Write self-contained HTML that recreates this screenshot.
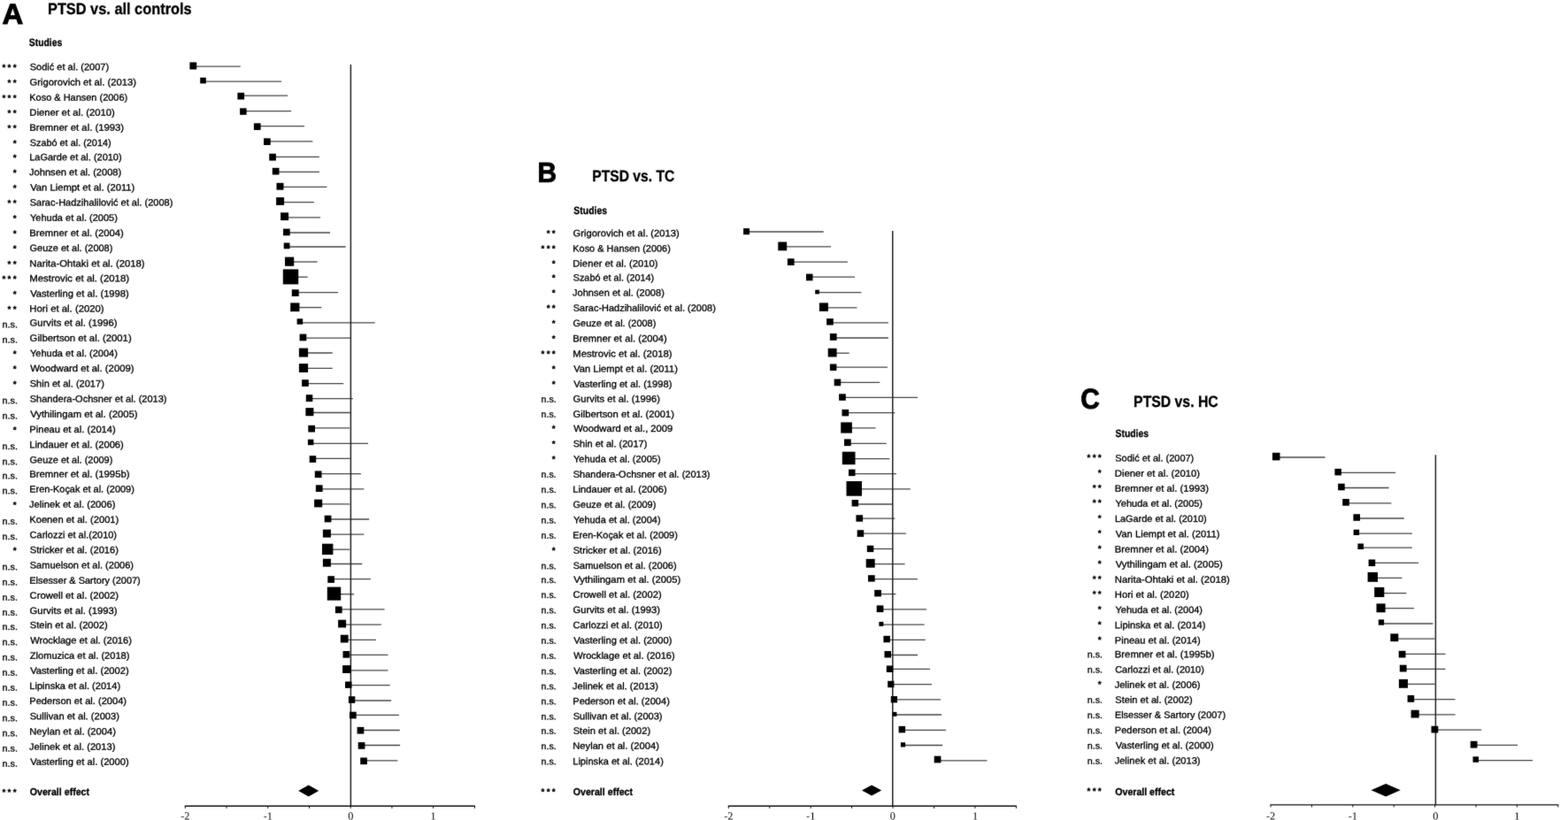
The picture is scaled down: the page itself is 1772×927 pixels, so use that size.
<!DOCTYPE html>
<html lang="en">
<head>
<meta charset="utf-8">
<title>Forest plots: PTSD vs. controls</title>
<style>
html,body{margin:0;padding:0;background:#fff;}
body{width:1772px;height:927px;overflow:hidden;position:relative;}
svg{position:absolute;left:0;top:0;display:block;}
svg text{font-family:'Liberation Sans', sans-serif;fill:#000;stroke:#000;stroke-width:0.30px;stroke-linejoin:round;}
svg text.ax{font-family:'Liberation Serif', serif;stroke:none;}
</style>
</head>
<body>
<svg width="1772" height="927" viewBox="0 0 1772 927" shape-rendering="geometricPrecision" text-rendering="geometricPrecision">
<defs><filter id="soft" x="0" y="0" width="100%" height="100%" color-interpolation-filters="sRGB"><feConvolveMatrix order="3" kernelMatrix="0.01 0.06 0.01 0.06 0.72 0.06 0.01 0.06 0.01" edgeMode="duplicate" preserveAlpha="false"/></filter></defs>
<g filter="url(#soft)">
<rect x="0" y="0" width="1772" height="927" fill="#fff"/>
<g id="panel-a">
<text transform="translate(2.59 27.00) skewY(0.03)" font-size="32.60" textLength="23.79" lengthAdjust="spacingAndGlyphs" font-weight="700" style="stroke-width:0.90px">A</text>
<text transform="translate(53.97 15.50) skewY(0.03)" font-size="18.00" textLength="162.67" lengthAdjust="spacingAndGlyphs" font-weight="700">PTSD vs. all controls</text>
<text transform="translate(32.84 51.50) skewY(0.03)" font-size="12.00" textLength="37.38" lengthAdjust="spacingAndGlyphs" font-weight="700">Studies</text>
<text transform="translate(33.72 898.75) skewY(0.03)" font-size="11.50" textLength="67.36" lengthAdjust="spacingAndGlyphs" font-weight="700">Overall effect</text>
<text transform="translate(33.71 79.25) skewY(0.03)" font-size="10.70" textLength="89.42" lengthAdjust="spacingAndGlyphs">Sodić et al. (2007)</text>
<text transform="translate(2.49 79.50) skewY(0.03)" x="0.00 6.10 12.20" font-size="9.90" font-weight="700">***</text>
<text transform="translate(33.59 96.50) skewY(0.03)" font-size="10.70" textLength="120.46" lengthAdjust="spacingAndGlyphs">Grigorovich et al. (2013)</text>
<text transform="translate(8.59 96.75) skewY(0.03)" x="0.00 6.10" font-size="9.90" font-weight="700">**</text>
<text transform="translate(33.27 113.75) skewY(0.03)" font-size="10.70" textLength="110.96" lengthAdjust="spacingAndGlyphs">Koso &amp; Hansen (2006)</text>
<text transform="translate(2.49 114.00) skewY(0.03)" x="0.00 6.10 12.20" font-size="9.90" font-weight="700">***</text>
<text transform="translate(33.25 130.75) skewY(0.03)" font-size="10.70" textLength="96.60" lengthAdjust="spacingAndGlyphs">Diener et al. (2010)</text>
<text transform="translate(8.59 131.00) skewY(0.03)" x="0.00 6.10" font-size="9.90" font-weight="700">**</text>
<text transform="translate(33.24 147.75) skewY(0.03)" font-size="10.70" textLength="106.90" lengthAdjust="spacingAndGlyphs">Bremner et al. (1993)</text>
<text transform="translate(8.59 148.00) skewY(0.03)" x="0.00 6.10" font-size="9.90" font-weight="700">**</text>
<text transform="translate(33.71 165.00) skewY(0.03)" font-size="10.70" textLength="91.91" lengthAdjust="spacingAndGlyphs">Szabó et al. (2014)</text>
<text transform="translate(14.69 165.25) skewY(0.03)" x="0.00" font-size="9.90" font-weight="700">*</text>
<text transform="translate(33.27 181.25) skewY(0.03)" font-size="10.70" textLength="104.36" lengthAdjust="spacingAndGlyphs">LaGarde et al. (2010)</text>
<text transform="translate(14.69 181.50) skewY(0.03)" x="0.00" font-size="9.90" font-weight="700">*</text>
<text transform="translate(33.04 198.25) skewY(0.03)" font-size="10.70" textLength="104.20" lengthAdjust="spacingAndGlyphs">Johnsen et al. (2008)</text>
<text transform="translate(14.69 198.50) skewY(0.03)" x="0.00" font-size="9.90" font-weight="700">*</text>
<text transform="translate(34.15 215.50) skewY(0.03)" font-size="10.70" textLength="118.20" lengthAdjust="spacingAndGlyphs">Van Liempt et al. (2011)</text>
<text transform="translate(14.69 215.75) skewY(0.03)" x="0.00" font-size="9.90" font-weight="700">*</text>
<text transform="translate(33.71 232.50) skewY(0.03)" font-size="10.70" textLength="161.62" lengthAdjust="spacingAndGlyphs">Sarac-Hadzihalilović et al. (2008)</text>
<text transform="translate(8.59 232.75) skewY(0.03)" x="0.00 6.10" font-size="9.90" font-weight="700">**</text>
<text transform="translate(33.93 249.75) skewY(0.03)" font-size="10.70" textLength="99.01" lengthAdjust="spacingAndGlyphs">Yehuda et al. (2005)</text>
<text transform="translate(14.69 250.00) skewY(0.03)" x="0.00" font-size="9.90" font-weight="700">*</text>
<text transform="translate(33.25 267.00) skewY(0.03)" font-size="10.70" textLength="106.60" lengthAdjust="spacingAndGlyphs">Bremner et al. (2004)</text>
<text transform="translate(14.69 267.25) skewY(0.03)" x="0.00" font-size="9.90" font-weight="700">*</text>
<text transform="translate(33.60 284.00) skewY(0.03)" font-size="10.70" textLength="93.73" lengthAdjust="spacingAndGlyphs">Geuze et al. (2008)</text>
<text transform="translate(14.69 284.25) skewY(0.03)" x="0.00" font-size="9.90" font-weight="700">*</text>
<text transform="translate(33.24 301.50) skewY(0.03)" font-size="10.70" textLength="130.41" lengthAdjust="spacingAndGlyphs">Narita-Ohtaki et al. (2018)</text>
<text transform="translate(8.59 301.75) skewY(0.03)" x="0.00 6.10" font-size="9.90" font-weight="700">**</text>
<text transform="translate(33.24 318.25) skewY(0.03)" font-size="10.70" textLength="112.82" lengthAdjust="spacingAndGlyphs">Mestrovic et al. (2018)</text>
<text transform="translate(2.49 318.50) skewY(0.03)" x="0.00 6.10 12.20" font-size="9.90" font-weight="700">***</text>
<text transform="translate(34.15 335.50) skewY(0.03)" font-size="10.70" textLength="111.59" lengthAdjust="spacingAndGlyphs">Vasterling et al. (1998)</text>
<text transform="translate(14.69 335.75) skewY(0.03)" x="0.00" font-size="9.90" font-weight="700">*</text>
<text transform="translate(33.24 352.50) skewY(0.03)" font-size="10.70" textLength="84.41" lengthAdjust="spacingAndGlyphs">Hori et al. (2020)</text>
<text transform="translate(8.59 352.75) skewY(0.03)" x="0.00 6.10" font-size="9.90" font-weight="700">**</text>
<text transform="translate(33.59 368.50) skewY(0.03)" font-size="10.70" textLength="98.96" lengthAdjust="spacingAndGlyphs">Gurvits et al. (1996)</text>
<text transform="translate(2.50 370.25) skewY(0.03)" font-size="10.30" textLength="17.40" lengthAdjust="spacingAndGlyphs">n.s.</text>
<text transform="translate(33.58 385.75) skewY(0.03)" font-size="10.70" textLength="115.07" lengthAdjust="spacingAndGlyphs">Gilbertson et al. (2001)</text>
<text transform="translate(2.50 387.50) skewY(0.03)" font-size="10.30" textLength="17.40" lengthAdjust="spacingAndGlyphs">n.s.</text>
<text transform="translate(33.93 403.00) skewY(0.03)" font-size="10.70" textLength="99.01" lengthAdjust="spacingAndGlyphs">Yehuda et al. (2004)</text>
<text transform="translate(14.69 403.25) skewY(0.03)" x="0.00" font-size="9.90" font-weight="700">*</text>
<text transform="translate(34.15 420.00) skewY(0.03)" font-size="10.70" textLength="117.40" lengthAdjust="spacingAndGlyphs">Woodward et al. (2009)</text>
<text transform="translate(14.69 420.25) skewY(0.03)" x="0.00" font-size="9.90" font-weight="700">*</text>
<text transform="translate(33.71 437.25) skewY(0.03)" font-size="10.70" textLength="84.13" lengthAdjust="spacingAndGlyphs">Shin et al. (2017)</text>
<text transform="translate(14.69 437.50) skewY(0.03)" x="0.00" font-size="9.90" font-weight="700">*</text>
<text transform="translate(33.71 454.50) skewY(0.03)" font-size="10.70" textLength="154.82" lengthAdjust="spacingAndGlyphs">Shandera-Ochsner et al. (2013)</text>
<text transform="translate(2.50 456.25) skewY(0.03)" font-size="10.30" textLength="17.40" lengthAdjust="spacingAndGlyphs">n.s.</text>
<text transform="translate(34.15 471.75) skewY(0.03)" font-size="10.70" textLength="121.40" lengthAdjust="spacingAndGlyphs">Vythilingam et al. (2005)</text>
<text transform="translate(2.50 473.50) skewY(0.03)" font-size="10.30" textLength="17.40" lengthAdjust="spacingAndGlyphs">n.s.</text>
<text transform="translate(33.26 489.00) skewY(0.03)" font-size="10.70" textLength="97.49" lengthAdjust="spacingAndGlyphs">Pineau et al. (2014)</text>
<text transform="translate(14.69 489.25) skewY(0.03)" x="0.00" font-size="9.90" font-weight="700">*</text>
<text transform="translate(33.25 506.25) skewY(0.03)" font-size="10.70" textLength="106.59" lengthAdjust="spacingAndGlyphs">Lindauer et al. (2006)</text>
<text transform="translate(2.50 508.00) skewY(0.03)" font-size="10.30" textLength="17.40" lengthAdjust="spacingAndGlyphs">n.s.</text>
<text transform="translate(33.60 523.50) skewY(0.03)" font-size="10.70" textLength="93.73" lengthAdjust="spacingAndGlyphs">Geuze et al. (2009)</text>
<text transform="translate(2.50 525.25) skewY(0.03)" font-size="10.30" textLength="17.40" lengthAdjust="spacingAndGlyphs">n.s.</text>
<text transform="translate(33.24 539.50) skewY(0.03)" font-size="10.70" textLength="113.31" lengthAdjust="spacingAndGlyphs">Bremner et al. (1995b)</text>
<text transform="translate(2.50 541.25) skewY(0.03)" font-size="10.30" textLength="17.40" lengthAdjust="spacingAndGlyphs">n.s.</text>
<text transform="translate(33.27 556.50) skewY(0.03)" font-size="10.70" textLength="118.55" lengthAdjust="spacingAndGlyphs">Eren-Koçak et al. (2009)</text>
<text transform="translate(2.50 558.25) skewY(0.03)" font-size="10.30" textLength="17.40" lengthAdjust="spacingAndGlyphs">n.s.</text>
<text transform="translate(33.04 573.75) skewY(0.03)" font-size="10.70" textLength="97.40" lengthAdjust="spacingAndGlyphs">Jelinek et al. (2006)</text>
<text transform="translate(14.69 574.00) skewY(0.03)" x="0.00" font-size="9.90" font-weight="700">*</text>
<text transform="translate(33.26 591.00) skewY(0.03)" font-size="10.70" textLength="100.98" lengthAdjust="spacingAndGlyphs">Koenen et al. (2001)</text>
<text transform="translate(2.50 592.75) skewY(0.03)" font-size="10.30" textLength="17.40" lengthAdjust="spacingAndGlyphs">n.s.</text>
<text transform="translate(33.60 608.25) skewY(0.03)" font-size="10.70" textLength="98.43" lengthAdjust="spacingAndGlyphs">Carlozzi et al.(2010)</text>
<text transform="translate(2.50 610.00) skewY(0.03)" font-size="10.30" textLength="17.40" lengthAdjust="spacingAndGlyphs">n.s.</text>
<text transform="translate(33.70 625.25) skewY(0.03)" font-size="10.70" textLength="100.24" lengthAdjust="spacingAndGlyphs">Stricker et al. (2016)</text>
<text transform="translate(14.69 625.50) skewY(0.03)" x="0.00" font-size="9.90" font-weight="700">*</text>
<text transform="translate(33.71 642.50) skewY(0.03)" font-size="10.70" textLength="117.33" lengthAdjust="spacingAndGlyphs">Samuelson et al. (2006)</text>
<text transform="translate(2.50 644.25) skewY(0.03)" font-size="10.30" textLength="17.40" lengthAdjust="spacingAndGlyphs">n.s.</text>
<text transform="translate(33.27 659.75) skewY(0.03)" font-size="10.70" textLength="125.46" lengthAdjust="spacingAndGlyphs">Elsesser &amp; Sartory (2007)</text>
<text transform="translate(2.50 661.50) skewY(0.03)" font-size="10.30" textLength="17.40" lengthAdjust="spacingAndGlyphs">n.s.</text>
<text transform="translate(33.59 676.75) skewY(0.03)" font-size="10.70" textLength="100.36" lengthAdjust="spacingAndGlyphs">Crowell et al. (2002)</text>
<text transform="translate(2.50 678.75) skewY(0.03)" font-size="10.30" textLength="17.40" lengthAdjust="spacingAndGlyphs">n.s.</text>
<text transform="translate(33.59 694.00) skewY(0.03)" font-size="10.70" textLength="98.96" lengthAdjust="spacingAndGlyphs">Gurvits et al. (1993)</text>
<text transform="translate(2.50 695.75) skewY(0.03)" font-size="10.30" textLength="17.40" lengthAdjust="spacingAndGlyphs">n.s.</text>
<text transform="translate(33.70 710.25) skewY(0.03)" font-size="10.70" textLength="87.94" lengthAdjust="spacingAndGlyphs">Stein et al. (2002)</text>
<text transform="translate(2.50 712.00) skewY(0.03)" font-size="10.30" textLength="17.40" lengthAdjust="spacingAndGlyphs">n.s.</text>
<text transform="translate(34.15 727.50) skewY(0.03)" font-size="10.70" textLength="114.79" lengthAdjust="spacingAndGlyphs">Wrocklage et al. (2016)</text>
<text transform="translate(2.50 729.25) skewY(0.03)" font-size="10.30" textLength="17.40" lengthAdjust="spacingAndGlyphs">n.s.</text>
<text transform="translate(33.82 744.75) skewY(0.03)" font-size="10.70" textLength="112.62" lengthAdjust="spacingAndGlyphs">Zlomuzica et al. (2018)</text>
<text transform="translate(2.50 746.50) skewY(0.03)" font-size="10.30" textLength="17.40" lengthAdjust="spacingAndGlyphs">n.s.</text>
<text transform="translate(34.15 761.75) skewY(0.03)" font-size="10.70" textLength="111.59" lengthAdjust="spacingAndGlyphs">Vasterling et al. (2002)</text>
<text transform="translate(2.50 763.75) skewY(0.03)" font-size="10.30" textLength="17.40" lengthAdjust="spacingAndGlyphs">n.s.</text>
<text transform="translate(33.26 779.00) skewY(0.03)" font-size="10.70" textLength="102.87" lengthAdjust="spacingAndGlyphs">Lipinska et al. (2014)</text>
<text transform="translate(2.50 780.75) skewY(0.03)" font-size="10.30" textLength="17.40" lengthAdjust="spacingAndGlyphs">n.s.</text>
<text transform="translate(33.26 796.00) skewY(0.03)" font-size="10.70" textLength="109.78" lengthAdjust="spacingAndGlyphs">Pederson et al. (2004)</text>
<text transform="translate(2.50 797.75) skewY(0.03)" font-size="10.30" textLength="17.40" lengthAdjust="spacingAndGlyphs">n.s.</text>
<text transform="translate(33.71 813.25) skewY(0.03)" font-size="10.70" textLength="101.13" lengthAdjust="spacingAndGlyphs">Sullivan et al. (2003)</text>
<text transform="translate(2.50 815.25) skewY(0.03)" font-size="10.30" textLength="17.40" lengthAdjust="spacingAndGlyphs">n.s.</text>
<text transform="translate(33.25 830.50) skewY(0.03)" font-size="10.70" textLength="97.79" lengthAdjust="spacingAndGlyphs">Neylan et al. (2004)</text>
<text transform="translate(2.50 832.25) skewY(0.03)" font-size="10.30" textLength="17.40" lengthAdjust="spacingAndGlyphs">n.s.</text>
<text transform="translate(33.04 847.75) skewY(0.03)" font-size="10.70" textLength="97.40" lengthAdjust="spacingAndGlyphs">Jelinek et al. (2013)</text>
<text transform="translate(2.50 849.50) skewY(0.03)" font-size="10.30" textLength="17.40" lengthAdjust="spacingAndGlyphs">n.s.</text>
<text transform="translate(34.15 864.75) skewY(0.03)" font-size="10.70" textLength="111.59" lengthAdjust="spacingAndGlyphs">Vasterling et al. (2000)</text>
<text transform="translate(2.50 866.75) skewY(0.03)" font-size="10.30" textLength="17.40" lengthAdjust="spacingAndGlyphs">n.s.</text>
<text transform="translate(2.49 898.75) skewY(0.03)" x="0.00 6.10 12.20" font-size="9.90" font-weight="700">***</text>
<line x1="218.3" y1="75.20" x2="271.7" y2="75.20" stroke="#484848" stroke-width="1.30"/>
<line x1="229.5" y1="92.20" x2="318.0" y2="92.20" stroke="#484848" stroke-width="1.30"/>
<line x1="272.2" y1="108.20" x2="325.2" y2="108.20" stroke="#484848" stroke-width="1.30"/>
<line x1="274.9" y1="125.70" x2="329.1" y2="125.70" stroke="#484848" stroke-width="1.30"/>
<line x1="290.8" y1="142.60" x2="344.0" y2="142.60" stroke="#484848" stroke-width="1.30"/>
<line x1="301.9" y1="159.90" x2="353.3" y2="159.90" stroke="#484848" stroke-width="1.30"/>
<line x1="308.0" y1="177.30" x2="360.8" y2="177.30" stroke="#484848" stroke-width="1.30"/>
<line x1="311.6" y1="194.30" x2="361.0" y2="194.30" stroke="#484848" stroke-width="1.30"/>
<line x1="316.5" y1="211.30" x2="369.4" y2="211.30" stroke="#484848" stroke-width="1.30"/>
<line x1="316.6" y1="228.70" x2="354.9" y2="228.70" stroke="#484848" stroke-width="1.30"/>
<line x1="321.6" y1="245.90" x2="362.1" y2="245.90" stroke="#484848" stroke-width="1.30"/>
<line x1="323.9" y1="263.00" x2="373.0" y2="263.00" stroke="#484848" stroke-width="1.30"/>
<line x1="324.1" y1="279.00" x2="390.7" y2="279.00" stroke="#484848" stroke-width="1.30"/>
<line x1="327.1" y1="296.00" x2="358.7" y2="296.00" stroke="#484848" stroke-width="1.30"/>
<line x1="328.5" y1="313.20" x2="347.6" y2="313.20" stroke="#484848" stroke-width="1.30"/>
<line x1="333.8" y1="330.60" x2="382.1" y2="330.60" stroke="#484848" stroke-width="1.30"/>
<line x1="333.3" y1="347.60" x2="363.5" y2="347.60" stroke="#484848" stroke-width="1.30"/>
<line x1="338.9" y1="364.80" x2="423.7" y2="364.80" stroke="#484848" stroke-width="1.30"/>
<line x1="342.5" y1="382.10" x2="397.0" y2="382.10" stroke="#484848" stroke-width="1.30"/>
<line x1="343.0" y1="399.00" x2="375.7" y2="399.00" stroke="#484848" stroke-width="1.30"/>
<line x1="343.0" y1="416.30" x2="375.7" y2="416.30" stroke="#484848" stroke-width="1.30"/>
<line x1="345.0" y1="433.70" x2="388.2" y2="433.70" stroke="#484848" stroke-width="1.30"/>
<line x1="349.6" y1="450.70" x2="398.8" y2="450.70" stroke="#484848" stroke-width="1.30"/>
<line x1="349.9" y1="466.50" x2="397.0" y2="466.50" stroke="#484848" stroke-width="1.30"/>
<line x1="352.1" y1="483.90" x2="395.2" y2="483.90" stroke="#484848" stroke-width="1.30"/>
<line x1="351.1" y1="501.40" x2="416.0" y2="501.40" stroke="#484848" stroke-width="1.30"/>
<line x1="353.4" y1="518.40" x2="395.7" y2="518.40" stroke="#484848" stroke-width="1.30"/>
<line x1="359.6" y1="535.60" x2="407.9" y2="535.60" stroke="#484848" stroke-width="1.30"/>
<line x1="360.8" y1="552.80" x2="411.3" y2="552.80" stroke="#484848" stroke-width="1.30"/>
<line x1="359.6" y1="569.80" x2="395.2" y2="569.80" stroke="#484848" stroke-width="1.30"/>
<line x1="370.5" y1="587.00" x2="417.2" y2="587.00" stroke="#484848" stroke-width="1.30"/>
<line x1="369.4" y1="604.20" x2="411.3" y2="604.20" stroke="#484848" stroke-width="1.30"/>
<line x1="370.2" y1="621.20" x2="395.2" y2="621.20" stroke="#484848" stroke-width="1.30"/>
<line x1="369.4" y1="637.50" x2="409.3" y2="637.50" stroke="#484848" stroke-width="1.30"/>
<line x1="374.1" y1="654.60" x2="418.8" y2="654.60" stroke="#484848" stroke-width="1.30"/>
<line x1="377.5" y1="671.70" x2="400.2" y2="671.70" stroke="#484848" stroke-width="1.30"/>
<line x1="382.8" y1="688.90" x2="434.6" y2="688.90" stroke="#484848" stroke-width="1.30"/>
<line x1="386.6" y1="706.10" x2="430.8" y2="706.10" stroke="#484848" stroke-width="1.30"/>
<line x1="389.2" y1="723.30" x2="424.9" y2="723.30" stroke="#484848" stroke-width="1.30"/>
<line x1="391.4" y1="740.30" x2="438.5" y2="740.30" stroke="#484848" stroke-width="1.30"/>
<line x1="391.9" y1="757.80" x2="438.5" y2="757.80" stroke="#484848" stroke-width="1.30"/>
<line x1="393.8" y1="774.70" x2="440.7" y2="774.70" stroke="#484848" stroke-width="1.30"/>
<line x1="397.6" y1="792.00" x2="442.1" y2="792.00" stroke="#484848" stroke-width="1.30"/>
<line x1="398.9" y1="808.30" x2="450.9" y2="808.30" stroke="#484848" stroke-width="1.30"/>
<line x1="407.5" y1="825.50" x2="451.8" y2="825.50" stroke="#484848" stroke-width="1.30"/>
<line x1="408.5" y1="842.50" x2="452.1" y2="842.50" stroke="#484848" stroke-width="1.30"/>
<line x1="411.0" y1="859.90" x2="449.3" y2="859.90" stroke="#484848" stroke-width="1.30"/>
<line x1="396.40" y1="73.1" x2="396.40" y2="911.3" stroke="#222" stroke-width="1.50"/>
<rect x="214.4" y="70.4" width="7.8" height="8.1" fill="#000"/>
<rect x="226.2" y="87.7" width="6.6" height="6.7" fill="#000"/>
<rect x="268.4" y="104.8" width="7.7" height="7.7" fill="#000"/>
<rect x="271.1" y="122.3" width="7.5" height="7.5" fill="#000"/>
<rect x="286.9" y="139.3" width="7.7" height="7.7" fill="#000"/>
<rect x="298.0" y="156.3" width="7.7" height="7.7" fill="#000"/>
<rect x="304.2" y="173.7" width="7.7" height="7.9" fill="#000"/>
<rect x="307.8" y="189.8" width="7.7" height="7.7" fill="#000"/>
<rect x="312.5" y="206.8" width="8.0" height="7.9" fill="#000"/>
<rect x="312.1" y="223.1" width="9.0" height="8.8" fill="#000"/>
<rect x="317.1" y="240.3" width="9.0" height="8.8" fill="#000"/>
<rect x="320.0" y="258.6" width="7.7" height="7.7" fill="#000"/>
<rect x="320.7" y="274.5" width="6.8" height="6.8" fill="#000"/>
<rect x="322.0" y="290.6" width="10.2" height="10.2" fill="#000"/>
<rect x="319.8" y="304.4" width="17.4" height="17.0" fill="#000"/>
<rect x="329.8" y="327.3" width="7.9" height="7.7" fill="#000"/>
<rect x="328.2" y="342.4" width="10.2" height="9.8" fill="#000"/>
<rect x="335.6" y="360.3" width="6.6" height="6.4" fill="#000"/>
<rect x="338.6" y="377.6" width="7.7" height="7.7" fill="#000"/>
<rect x="337.9" y="393.6" width="10.2" height="10.0" fill="#000"/>
<rect x="337.9" y="411.1" width="10.2" height="9.9" fill="#000"/>
<rect x="341.1" y="429.2" width="7.7" height="7.7" fill="#000"/>
<rect x="345.8" y="446.2" width="7.5" height="7.9" fill="#000"/>
<rect x="345.4" y="461.1" width="9.0" height="9.1" fill="#000"/>
<rect x="348.3" y="480.8" width="7.7" height="7.7" fill="#000"/>
<rect x="347.9" y="496.7" width="6.5" height="6.5" fill="#000"/>
<rect x="349.7" y="515.2" width="7.5" height="7.7" fill="#000"/>
<rect x="355.8" y="532.4" width="7.7" height="7.7" fill="#000"/>
<rect x="356.9" y="548.3" width="7.7" height="7.7" fill="#000"/>
<rect x="355.1" y="564.6" width="9.1" height="8.8" fill="#000"/>
<rect x="366.7" y="582.7" width="7.7" height="7.7" fill="#000"/>
<rect x="364.9" y="598.6" width="9.0" height="9.0" fill="#000"/>
<rect x="364.0" y="614.7" width="12.4" height="12.4" fill="#000"/>
<rect x="364.9" y="631.7" width="9.0" height="9.0" fill="#000"/>
<rect x="370.3" y="651.2" width="7.7" height="7.7" fill="#000"/>
<rect x="369.8" y="663.6" width="15.4" height="15.1" fill="#000"/>
<rect x="378.9" y="685.5" width="7.7" height="7.7" fill="#000"/>
<rect x="382.1" y="700.7" width="9.0" height="8.8" fill="#000"/>
<rect x="384.8" y="717.7" width="8.8" height="8.8" fill="#000"/>
<rect x="387.5" y="736.0" width="7.7" height="7.7" fill="#000"/>
<rect x="387.1" y="752.1" width="9.5" height="8.9" fill="#000"/>
<rect x="390.0" y="770.5" width="7.5" height="7.4" fill="#000"/>
<rect x="393.9" y="787.2" width="7.4" height="7.7" fill="#000"/>
<rect x="395.0" y="804.7" width="7.7" height="7.7" fill="#000"/>
<rect x="403.6" y="821.9" width="7.7" height="7.7" fill="#000"/>
<rect x="404.7" y="839.1" width="7.7" height="7.7" fill="#000"/>
<rect x="407.2" y="856.5" width="7.7" height="7.7" fill="#000"/>
<polygon points="337.2,894.0 348.7,887.5 360.2,894.0 348.7,900.5" fill="#000"/>
<line x1="208.8" y1="911.30" x2="536.9" y2="911.30" stroke="#111" stroke-width="1.40"/>
<line x1="209.30" y1="911.30" x2="209.30" y2="913.90" stroke="#111" stroke-width="1.00"/>
<line x1="256.03" y1="911.30" x2="256.03" y2="913.90" stroke="#111" stroke-width="1.00"/>
<line x1="302.76" y1="911.30" x2="302.76" y2="913.90" stroke="#111" stroke-width="1.00"/>
<line x1="349.49" y1="911.30" x2="349.49" y2="913.90" stroke="#111" stroke-width="1.00"/>
<line x1="396.21" y1="911.30" x2="396.21" y2="913.90" stroke="#111" stroke-width="1.00"/>
<line x1="442.94" y1="911.30" x2="442.94" y2="913.90" stroke="#111" stroke-width="1.00"/>
<line x1="489.67" y1="911.30" x2="489.67" y2="913.90" stroke="#111" stroke-width="1.00"/>
<line x1="536.40" y1="911.30" x2="536.40" y2="913.90" stroke="#111" stroke-width="1.00"/>
<text transform="translate(209.30 926.50) skewY(0.03)" font-size="12.30" class="ax" text-anchor="middle">-2</text>
<text transform="translate(302.76 926.50) skewY(0.03)" font-size="12.30" class="ax" text-anchor="middle">-1</text>
<text transform="translate(396.40 926.50) skewY(0.03)" font-size="12.30" class="ax" text-anchor="middle">0</text>
<text transform="translate(489.67 926.50) skewY(0.03)" font-size="12.30" class="ax" text-anchor="middle">1</text>
</g>
<g id="panel-b">
<text transform="translate(607.46 205.75) skewY(0.03)" font-size="31.80" textLength="21.55" lengthAdjust="spacingAndGlyphs" font-weight="700" style="stroke-width:0.90px">B</text>
<text transform="translate(669.31 205.00) skewY(0.03)" font-size="18.00" textLength="92.99" lengthAdjust="spacingAndGlyphs" font-weight="700">PTSD vs. TC</text>
<text transform="translate(648.34 242.00) skewY(0.03)" font-size="12.00" textLength="37.69" lengthAdjust="spacingAndGlyphs" font-weight="700">Studies</text>
<text transform="translate(647.72 898.75) skewY(0.03)" font-size="11.50" textLength="67.36" lengthAdjust="spacingAndGlyphs" font-weight="700">Overall effect</text>
<text transform="translate(647.59 267.25) skewY(0.03)" font-size="10.70" textLength="120.15" lengthAdjust="spacingAndGlyphs">Grigorovich et al. (2013)</text>
<text transform="translate(617.69 267.00) skewY(0.03)" x="0.00 6.10" font-size="9.90" font-weight="700">**</text>
<text transform="translate(647.28 284.50) skewY(0.03)" font-size="10.70" textLength="110.55" lengthAdjust="spacingAndGlyphs">Koso &amp; Hansen (2006)</text>
<text transform="translate(611.59 284.25) skewY(0.03)" x="0.00 6.10 12.20" font-size="9.90" font-weight="700">***</text>
<text transform="translate(647.25 301.50) skewY(0.03)" font-size="10.70" textLength="96.30" lengthAdjust="spacingAndGlyphs">Diener et al. (2010)</text>
<text transform="translate(623.79 301.25) skewY(0.03)" x="0.00" font-size="9.90" font-weight="700">*</text>
<text transform="translate(647.72 317.50) skewY(0.03)" font-size="10.70" textLength="91.51" lengthAdjust="spacingAndGlyphs">Szabó et al. (2014)</text>
<text transform="translate(623.79 317.25) skewY(0.03)" x="0.00" font-size="9.90" font-weight="700">*</text>
<text transform="translate(647.04 334.50) skewY(0.03)" font-size="10.70" textLength="103.80" lengthAdjust="spacingAndGlyphs">Johnsen et al. (2008)</text>
<text transform="translate(623.79 334.25) skewY(0.03)" x="0.00" font-size="9.90" font-weight="700">*</text>
<text transform="translate(647.71 351.75) skewY(0.03)" font-size="10.70" textLength="161.12" lengthAdjust="spacingAndGlyphs">Sarac-Hadzihalilović et al. (2008)</text>
<text transform="translate(617.69 351.50) skewY(0.03)" x="0.00 6.10" font-size="9.90" font-weight="700">**</text>
<text transform="translate(647.60 369.00) skewY(0.03)" font-size="10.70" textLength="93.73" lengthAdjust="spacingAndGlyphs">Geuze et al. (2008)</text>
<text transform="translate(623.79 368.75) skewY(0.03)" x="0.00" font-size="9.90" font-weight="700">*</text>
<text transform="translate(647.25 386.25) skewY(0.03)" font-size="10.70" textLength="106.50" lengthAdjust="spacingAndGlyphs">Bremner et al. (2004)</text>
<text transform="translate(623.79 386.00) skewY(0.03)" x="0.00" font-size="9.90" font-weight="700">*</text>
<text transform="translate(647.24 403.50) skewY(0.03)" font-size="10.70" textLength="112.41" lengthAdjust="spacingAndGlyphs">Mestrovic et al. (2018)</text>
<text transform="translate(611.59 403.25) skewY(0.03)" x="0.00 6.10 12.20" font-size="9.90" font-weight="700">***</text>
<text transform="translate(648.15 420.50) skewY(0.03)" font-size="10.70" textLength="117.79" lengthAdjust="spacingAndGlyphs">Van Liempt et al. (2011)</text>
<text transform="translate(623.79 420.25) skewY(0.03)" x="0.00" font-size="9.90" font-weight="700">*</text>
<text transform="translate(648.15 437.75) skewY(0.03)" font-size="10.70" textLength="111.19" lengthAdjust="spacingAndGlyphs">Vasterling et al. (1998)</text>
<text transform="translate(623.79 437.50) skewY(0.03)" x="0.00" font-size="9.90" font-weight="700">*</text>
<text transform="translate(647.59 454.50) skewY(0.03)" font-size="10.70" textLength="98.45" lengthAdjust="spacingAndGlyphs">Gurvits et al. (1996)</text>
<text transform="translate(611.61 454.75) skewY(0.03)" font-size="10.30" textLength="17.07" lengthAdjust="spacingAndGlyphs">n.s.</text>
<text transform="translate(647.59 471.75) skewY(0.03)" font-size="10.70" textLength="114.46" lengthAdjust="spacingAndGlyphs">Gilbertson et al. (2001)</text>
<text transform="translate(611.61 471.75) skewY(0.03)" font-size="10.30" textLength="17.07" lengthAdjust="spacingAndGlyphs">n.s.</text>
<text transform="translate(648.15 488.00) skewY(0.03)" font-size="10.70" textLength="112.22" lengthAdjust="spacingAndGlyphs">Woodward et al., 2009</text>
<text transform="translate(623.79 487.75) skewY(0.03)" x="0.00" font-size="9.90" font-weight="700">*</text>
<text transform="translate(647.71 505.25) skewY(0.03)" font-size="10.70" textLength="83.62" lengthAdjust="spacingAndGlyphs">Shin et al. (2017)</text>
<text transform="translate(623.79 505.00) skewY(0.03)" x="0.00" font-size="9.90" font-weight="700">*</text>
<text transform="translate(647.93 522.50) skewY(0.03)" font-size="10.70" textLength="98.70" lengthAdjust="spacingAndGlyphs">Yehuda et al. (2005)</text>
<text transform="translate(623.79 522.25) skewY(0.03)" x="0.00" font-size="9.90" font-weight="700">*</text>
<text transform="translate(647.71 539.75) skewY(0.03)" font-size="10.70" textLength="154.82" lengthAdjust="spacingAndGlyphs">Shandera-Ochsner et al. (2013)</text>
<text transform="translate(611.61 539.75) skewY(0.03)" font-size="10.30" textLength="17.07" lengthAdjust="spacingAndGlyphs">n.s.</text>
<text transform="translate(647.25 556.75) skewY(0.03)" font-size="10.70" textLength="106.49" lengthAdjust="spacingAndGlyphs">Lindauer et al. (2006)</text>
<text transform="translate(611.61 557.00) skewY(0.03)" font-size="10.30" textLength="17.07" lengthAdjust="spacingAndGlyphs">n.s.</text>
<text transform="translate(647.60 574.00) skewY(0.03)" font-size="10.70" textLength="93.73" lengthAdjust="spacingAndGlyphs">Geuze et al. (2009)</text>
<text transform="translate(611.61 574.25) skewY(0.03)" font-size="10.30" textLength="17.07" lengthAdjust="spacingAndGlyphs">n.s.</text>
<text transform="translate(647.93 591.25) skewY(0.03)" font-size="10.70" textLength="98.70" lengthAdjust="spacingAndGlyphs">Yehuda et al. (2004)</text>
<text transform="translate(611.61 591.50) skewY(0.03)" font-size="10.30" textLength="17.07" lengthAdjust="spacingAndGlyphs">n.s.</text>
<text transform="translate(647.27 608.50) skewY(0.03)" font-size="10.70" textLength="118.55" lengthAdjust="spacingAndGlyphs">Eren-Koçak et al. (2009)</text>
<text transform="translate(611.61 608.75) skewY(0.03)" font-size="10.30" textLength="17.07" lengthAdjust="spacingAndGlyphs">n.s.</text>
<text transform="translate(647.71 625.75) skewY(0.03)" font-size="10.70" textLength="100.03" lengthAdjust="spacingAndGlyphs">Stricker et al. (2016)</text>
<text transform="translate(623.79 625.50) skewY(0.03)" x="0.00" font-size="9.90" font-weight="700">*</text>
<text transform="translate(647.71 643.00) skewY(0.03)" font-size="10.70" textLength="116.92" lengthAdjust="spacingAndGlyphs">Samuelson et al. (2006)</text>
<text transform="translate(611.61 643.25) skewY(0.03)" font-size="10.30" textLength="17.07" lengthAdjust="spacingAndGlyphs">n.s.</text>
<text transform="translate(648.15 658.75) skewY(0.03)" font-size="10.70" textLength="121.20" lengthAdjust="spacingAndGlyphs">Vythilingam et al. (2005)</text>
<text transform="translate(611.61 659.00) skewY(0.03)" font-size="10.30" textLength="17.07" lengthAdjust="spacingAndGlyphs">n.s.</text>
<text transform="translate(647.59 675.75) skewY(0.03)" font-size="10.70" textLength="100.05" lengthAdjust="spacingAndGlyphs">Crowell et al. (2002)</text>
<text transform="translate(611.61 676.00) skewY(0.03)" font-size="10.30" textLength="17.07" lengthAdjust="spacingAndGlyphs">n.s.</text>
<text transform="translate(647.59 693.00) skewY(0.03)" font-size="10.70" textLength="98.45" lengthAdjust="spacingAndGlyphs">Gurvits et al. (1993)</text>
<text transform="translate(611.61 693.25) skewY(0.03)" font-size="10.30" textLength="17.07" lengthAdjust="spacingAndGlyphs">n.s.</text>
<text transform="translate(647.60 710.25) skewY(0.03)" font-size="10.70" textLength="101.03" lengthAdjust="spacingAndGlyphs">Carlozzi et al. (2010)</text>
<text transform="translate(611.61 710.50) skewY(0.03)" font-size="10.30" textLength="17.07" lengthAdjust="spacingAndGlyphs">n.s.</text>
<text transform="translate(648.15 727.50) skewY(0.03)" font-size="10.70" textLength="111.19" lengthAdjust="spacingAndGlyphs">Vasterling et al. (2000)</text>
<text transform="translate(611.61 727.75) skewY(0.03)" font-size="10.30" textLength="17.07" lengthAdjust="spacingAndGlyphs">n.s.</text>
<text transform="translate(648.15 744.75) skewY(0.03)" font-size="10.70" textLength="114.59" lengthAdjust="spacingAndGlyphs">Wrocklage et al. (2016)</text>
<text transform="translate(611.61 744.75) skewY(0.03)" font-size="10.30" textLength="17.07" lengthAdjust="spacingAndGlyphs">n.s.</text>
<text transform="translate(648.15 762.00) skewY(0.03)" font-size="10.70" textLength="111.19" lengthAdjust="spacingAndGlyphs">Vasterling et al. (2002)</text>
<text transform="translate(611.61 762.25) skewY(0.03)" font-size="10.30" textLength="17.07" lengthAdjust="spacingAndGlyphs">n.s.</text>
<text transform="translate(647.04 779.25) skewY(0.03)" font-size="10.70" textLength="96.90" lengthAdjust="spacingAndGlyphs">Jelinek et al. (2013)</text>
<text transform="translate(611.61 779.25) skewY(0.03)" font-size="10.30" textLength="17.07" lengthAdjust="spacingAndGlyphs">n.s.</text>
<text transform="translate(647.26 796.25) skewY(0.03)" font-size="10.70" textLength="109.57" lengthAdjust="spacingAndGlyphs">Pederson et al. (2004)</text>
<text transform="translate(611.61 796.25) skewY(0.03)" font-size="10.30" textLength="17.07" lengthAdjust="spacingAndGlyphs">n.s.</text>
<text transform="translate(647.71 813.25) skewY(0.03)" font-size="10.70" textLength="100.83" lengthAdjust="spacingAndGlyphs">Sullivan et al. (2003)</text>
<text transform="translate(611.61 813.50) skewY(0.03)" font-size="10.30" textLength="17.07" lengthAdjust="spacingAndGlyphs">n.s.</text>
<text transform="translate(647.71 829.75) skewY(0.03)" font-size="10.70" textLength="87.43" lengthAdjust="spacingAndGlyphs">Stein et al. (2002)</text>
<text transform="translate(611.61 829.75) skewY(0.03)" font-size="10.30" textLength="17.07" lengthAdjust="spacingAndGlyphs">n.s.</text>
<text transform="translate(647.25 846.75) skewY(0.03)" font-size="10.70" textLength="97.69" lengthAdjust="spacingAndGlyphs">Neylan et al. (2004)</text>
<text transform="translate(611.61 847.00) skewY(0.03)" font-size="10.30" textLength="17.07" lengthAdjust="spacingAndGlyphs">n.s.</text>
<text transform="translate(647.27 864.25) skewY(0.03)" font-size="10.70" textLength="102.57" lengthAdjust="spacingAndGlyphs">Lipinska et al. (2014)</text>
<text transform="translate(611.61 864.25) skewY(0.03)" font-size="10.30" textLength="17.07" lengthAdjust="spacingAndGlyphs">n.s.</text>
<text transform="translate(611.59 898.25) skewY(0.03)" x="0.00 6.10 12.20" font-size="9.90" font-weight="700">***</text>
<line x1="843.6" y1="262.00" x2="930.7" y2="262.00" stroke="#484848" stroke-width="1.30"/>
<line x1="884.2" y1="278.90" x2="939.1" y2="278.90" stroke="#484848" stroke-width="1.30"/>
<line x1="893.8" y1="296.20" x2="957.9" y2="296.20" stroke="#484848" stroke-width="1.30"/>
<line x1="914.8" y1="313.20" x2="966.0" y2="313.20" stroke="#484848" stroke-width="1.30"/>
<line x1="923.5" y1="330.60" x2="973.3" y2="330.60" stroke="#484848" stroke-width="1.30"/>
<line x1="930.9" y1="347.80" x2="968.5" y2="347.80" stroke="#484848" stroke-width="1.30"/>
<line x1="938.0" y1="364.80" x2="1003.9" y2="364.80" stroke="#484848" stroke-width="1.30"/>
<line x1="941.8" y1="382.00" x2="1003.9" y2="382.00" stroke="#484848" stroke-width="1.30"/>
<line x1="940.7" y1="399.20" x2="959.7" y2="399.20" stroke="#484848" stroke-width="1.30"/>
<line x1="941.6" y1="415.10" x2="1003.0" y2="415.10" stroke="#484848" stroke-width="1.30"/>
<line x1="946.5" y1="432.30" x2="994.3" y2="432.30" stroke="#484848" stroke-width="1.30"/>
<line x1="952.0" y1="449.40" x2="1037.1" y2="449.40" stroke="#484848" stroke-width="1.30"/>
<line x1="955.4" y1="466.70" x2="1011.3" y2="466.70" stroke="#484848" stroke-width="1.30"/>
<line x1="956.5" y1="483.90" x2="989.6" y2="483.90" stroke="#484848" stroke-width="1.30"/>
<line x1="957.9" y1="501.40" x2="1001.6" y2="501.40" stroke="#484848" stroke-width="1.30"/>
<line x1="959.1" y1="518.60" x2="1005.4" y2="518.60" stroke="#484848" stroke-width="1.30"/>
<line x1="962.8" y1="535.60" x2="1012.9" y2="535.60" stroke="#484848" stroke-width="1.30"/>
<line x1="965.2" y1="552.80" x2="1028.8" y2="552.80" stroke="#484848" stroke-width="1.30"/>
<line x1="966.4" y1="570.00" x2="1008.4" y2="570.00" stroke="#484848" stroke-width="1.30"/>
<line x1="971.2" y1="586.10" x2="1011.3" y2="586.10" stroke="#484848" stroke-width="1.30"/>
<line x1="972.5" y1="603.10" x2="1023.8" y2="603.10" stroke="#484848" stroke-width="1.30"/>
<line x1="983.5" y1="620.50" x2="1007.9" y2="620.50" stroke="#484848" stroke-width="1.30"/>
<line x1="983.7" y1="637.60" x2="1022.6" y2="637.60" stroke="#484848" stroke-width="1.30"/>
<line x1="984.9" y1="654.70" x2="1036.9" y2="654.70" stroke="#484848" stroke-width="1.30"/>
<line x1="992.0" y1="671.60" x2="1012.5" y2="671.60" stroke="#484848" stroke-width="1.30"/>
<line x1="994.5" y1="688.90" x2="1047.1" y2="688.90" stroke="#484848" stroke-width="1.30"/>
<line x1="995.9" y1="706.10" x2="1044.6" y2="706.10" stroke="#484848" stroke-width="1.30"/>
<line x1="1002.1" y1="723.30" x2="1045.8" y2="723.30" stroke="#484848" stroke-width="1.30"/>
<line x1="1003.2" y1="740.50" x2="1037.1" y2="740.50" stroke="#484848" stroke-width="1.30"/>
<line x1="1005.5" y1="756.40" x2="1051.0" y2="756.40" stroke="#484848" stroke-width="1.30"/>
<line x1="1006.8" y1="773.60" x2="1053.0" y2="773.60" stroke="#484848" stroke-width="1.30"/>
<line x1="1010.4" y1="790.80" x2="1063.0" y2="790.80" stroke="#484848" stroke-width="1.30"/>
<line x1="1011.0" y1="808.00" x2="1064.1" y2="808.00" stroke="#484848" stroke-width="1.30"/>
<line x1="1019.4" y1="825.30" x2="1069.1" y2="825.30" stroke="#484848" stroke-width="1.30"/>
<line x1="1020.5" y1="842.50" x2="1065.2" y2="842.50" stroke="#484848" stroke-width="1.30"/>
<line x1="1059.6" y1="859.90" x2="1115.5" y2="859.90" stroke="#484848" stroke-width="1.30"/>
<line x1="1008.80" y1="260.9" x2="1008.80" y2="911.3" stroke="#222" stroke-width="1.50"/>
<rect x="840.1" y="258.1" width="7.0" height="7.1" fill="#000"/>
<rect x="879.3" y="273.5" width="9.9" height="9.8" fill="#000"/>
<rect x="889.9" y="292.3" width="7.7" height="7.7" fill="#000"/>
<rect x="911.0" y="309.6" width="7.5" height="7.7" fill="#000"/>
<rect x="921.2" y="327.7" width="4.7" height="4.7" fill="#000"/>
<rect x="925.9" y="342.4" width="10.0" height="9.5" fill="#000"/>
<rect x="934.1" y="360.1" width="7.7" height="7.4" fill="#000"/>
<rect x="937.9" y="377.0" width="7.7" height="7.8" fill="#000"/>
<rect x="935.7" y="393.8" width="9.9" height="9.7" fill="#000"/>
<rect x="937.9" y="411.5" width="7.5" height="7.5" fill="#000"/>
<rect x="942.7" y="428.5" width="7.5" height="7.7" fill="#000"/>
<rect x="948.1" y="445.3" width="7.7" height="7.5" fill="#000"/>
<rect x="951.5" y="462.9" width="7.7" height="7.5" fill="#000"/>
<rect x="950.2" y="477.4" width="12.7" height="12.2" fill="#000"/>
<rect x="954.0" y="496.4" width="7.7" height="7.7" fill="#000"/>
<rect x="951.8" y="510.7" width="14.7" height="14.5" fill="#000"/>
<rect x="959.0" y="530.6" width="7.5" height="7.5" fill="#000"/>
<rect x="956.5" y="544.0" width="17.5" height="16.7" fill="#000"/>
<rect x="962.6" y="565.0" width="7.5" height="7.5" fill="#000"/>
<rect x="967.4" y="582.2" width="7.7" height="7.5" fill="#000"/>
<rect x="968.7" y="599.2" width="7.5" height="7.7" fill="#000"/>
<rect x="979.8" y="616.7" width="7.5" height="7.4" fill="#000"/>
<rect x="978.7" y="631.9" width="10.0" height="9.8" fill="#000"/>
<rect x="981.0" y="650.2" width="7.7" height="7.4" fill="#000"/>
<rect x="988.2" y="666.9" width="7.7" height="7.5" fill="#000"/>
<rect x="990.7" y="684.4" width="7.7" height="7.7" fill="#000"/>
<rect x="993.4" y="702.9" width="5.0" height="5.0" fill="#000"/>
<rect x="998.4" y="718.8" width="7.5" height="7.5" fill="#000"/>
<rect x="999.5" y="736.0" width="7.5" height="7.5" fill="#000"/>
<rect x="1001.8" y="752.5" width="7.5" height="7.5" fill="#000"/>
<rect x="1003.2" y="769.8" width="7.2" height="7.4" fill="#000"/>
<rect x="1006.8" y="787.0" width="7.2" height="7.4" fill="#000"/>
<rect x="1008.6" y="804.9" width="4.8" height="4.9" fill="#000"/>
<rect x="1015.6" y="820.9" width="7.5" height="7.5" fill="#000"/>
<rect x="1017.9" y="839.3" width="5.2" height="5.2" fill="#000"/>
<rect x="1055.7" y="854.7" width="7.7" height="7.7" fill="#000"/>
<polygon points="974.0,893.5 985.1,887.6 996.2,893.5 985.1,899.4" fill="#000"/>
<line x1="822.8" y1="911.30" x2="1148.9" y2="911.30" stroke="#111" stroke-width="1.40"/>
<line x1="823.30" y1="911.30" x2="823.30" y2="913.90" stroke="#111" stroke-width="1.00"/>
<line x1="869.74" y1="911.30" x2="869.74" y2="913.90" stroke="#111" stroke-width="1.00"/>
<line x1="916.19" y1="911.30" x2="916.19" y2="913.90" stroke="#111" stroke-width="1.00"/>
<line x1="962.63" y1="911.30" x2="962.63" y2="913.90" stroke="#111" stroke-width="1.00"/>
<line x1="1009.07" y1="911.30" x2="1009.07" y2="913.90" stroke="#111" stroke-width="1.00"/>
<line x1="1055.51" y1="911.30" x2="1055.51" y2="913.90" stroke="#111" stroke-width="1.00"/>
<line x1="1101.96" y1="911.30" x2="1101.96" y2="913.90" stroke="#111" stroke-width="1.00"/>
<line x1="1148.40" y1="911.30" x2="1148.40" y2="913.90" stroke="#111" stroke-width="1.00"/>
<text transform="translate(823.30 926.50) skewY(0.03)" font-size="12.30" class="ax" text-anchor="middle">-2</text>
<text transform="translate(916.19 926.50) skewY(0.03)" font-size="12.30" class="ax" text-anchor="middle">-1</text>
<text transform="translate(1008.80 926.50) skewY(0.03)" font-size="12.30" class="ax" text-anchor="middle">0</text>
<text transform="translate(1101.96 926.50) skewY(0.03)" font-size="12.30" class="ax" text-anchor="middle">1</text>
</g>
<g id="panel-c">
<text transform="translate(1221.26 461.75) skewY(0.03)" font-size="31.80" textLength="21.56" lengthAdjust="spacingAndGlyphs" font-weight="700" style="stroke-width:0.90px">C</text>
<text transform="translate(1281.10 460.00) skewY(0.03)" font-size="18.00" textLength="95.60" lengthAdjust="spacingAndGlyphs" font-weight="700">PTSD vs. HC</text>
<text transform="translate(1260.54 494.25) skewY(0.03)" font-size="12.00" textLength="37.38" lengthAdjust="spacingAndGlyphs" font-weight="700">Studies</text>
<text transform="translate(1260.33 898.50) skewY(0.03)" font-size="11.50" textLength="66.95" lengthAdjust="spacingAndGlyphs" font-weight="700">Overall effect</text>
<text transform="translate(1260.31 521.50) skewY(0.03)" font-size="10.70" textLength="88.92" lengthAdjust="spacingAndGlyphs">Sodić et al. (2007)</text>
<text transform="translate(1228.59 520.50) skewY(0.03)" x="0.00 6.10 12.20" font-size="9.90" font-weight="700">***</text>
<text transform="translate(1259.85 538.75) skewY(0.03)" font-size="10.70" textLength="96.19" lengthAdjust="spacingAndGlyphs">Diener et al. (2010)</text>
<text transform="translate(1240.79 537.75) skewY(0.03)" x="0.00" font-size="9.90" font-weight="700">*</text>
<text transform="translate(1259.85 555.75) skewY(0.03)" font-size="10.70" textLength="106.09" lengthAdjust="spacingAndGlyphs">Bremner et al. (1993)</text>
<text transform="translate(1234.69 554.75) skewY(0.03)" x="0.00 6.10" font-size="9.90" font-weight="700">**</text>
<text transform="translate(1260.53 572.75) skewY(0.03)" font-size="10.70" textLength="98.50" lengthAdjust="spacingAndGlyphs">Yehuda et al. (2005)</text>
<text transform="translate(1234.69 571.50) skewY(0.03)" x="0.00 6.10" font-size="9.90" font-weight="700">**</text>
<text transform="translate(1259.88 590.00) skewY(0.03)" font-size="10.70" textLength="103.85" lengthAdjust="spacingAndGlyphs">LaGarde et al. (2010)</text>
<text transform="translate(1240.79 589.00) skewY(0.03)" x="0.00" font-size="9.90" font-weight="700">*</text>
<text transform="translate(1260.75 607.25) skewY(0.03)" font-size="10.70" textLength="117.69" lengthAdjust="spacingAndGlyphs">Van Liempt et al. (2011)</text>
<text transform="translate(1240.79 606.00) skewY(0.03)" x="0.00" font-size="9.90" font-weight="700">*</text>
<text transform="translate(1259.85 624.50) skewY(0.03)" font-size="10.70" textLength="106.09" lengthAdjust="spacingAndGlyphs">Bremner et al. (2004)</text>
<text transform="translate(1240.79 623.50) skewY(0.03)" x="0.00" font-size="9.90" font-weight="700">*</text>
<text transform="translate(1260.75 641.50) skewY(0.03)" font-size="10.70" textLength="120.90" lengthAdjust="spacingAndGlyphs">Vythilingam et al. (2005)</text>
<text transform="translate(1240.79 640.50) skewY(0.03)" x="0.00" font-size="9.90" font-weight="700">*</text>
<text transform="translate(1259.85 658.75) skewY(0.03)" font-size="10.70" textLength="129.90" lengthAdjust="spacingAndGlyphs">Narita-Ohtaki et al. (2018)</text>
<text transform="translate(1234.69 657.75) skewY(0.03)" x="0.00 6.10" font-size="9.90" font-weight="700">**</text>
<text transform="translate(1259.85 675.75) skewY(0.03)" font-size="10.70" textLength="83.80" lengthAdjust="spacingAndGlyphs">Hori et al. (2020)</text>
<text transform="translate(1234.69 674.75) skewY(0.03)" x="0.00 6.10" font-size="9.90" font-weight="700">**</text>
<text transform="translate(1260.53 693.00) skewY(0.03)" font-size="10.70" textLength="98.50" lengthAdjust="spacingAndGlyphs">Yehuda et al. (2004)</text>
<text transform="translate(1240.79 692.00) skewY(0.03)" x="0.00" font-size="9.90" font-weight="700">*</text>
<text transform="translate(1259.87 710.25) skewY(0.03)" font-size="10.70" textLength="102.47" lengthAdjust="spacingAndGlyphs">Lipinska et al. (2014)</text>
<text transform="translate(1240.79 709.25) skewY(0.03)" x="0.00" font-size="9.90" font-weight="700">*</text>
<text transform="translate(1259.86 727.50) skewY(0.03)" font-size="10.70" textLength="96.88" lengthAdjust="spacingAndGlyphs">Pineau et al. (2014)</text>
<text transform="translate(1240.79 726.50) skewY(0.03)" x="0.00" font-size="9.90" font-weight="700">*</text>
<text transform="translate(1259.85 743.25) skewY(0.03)" font-size="10.70" textLength="112.70" lengthAdjust="spacingAndGlyphs">Bremner et al. (1995b)</text>
<text transform="translate(1228.71 743.25) skewY(0.03)" font-size="10.30" textLength="17.29" lengthAdjust="spacingAndGlyphs">n.s.</text>
<text transform="translate(1260.20 760.50) skewY(0.03)" font-size="10.70" textLength="100.62" lengthAdjust="spacingAndGlyphs">Carlozzi et al. (2010)</text>
<text transform="translate(1228.71 760.50) skewY(0.03)" font-size="10.30" textLength="17.29" lengthAdjust="spacingAndGlyphs">n.s.</text>
<text transform="translate(1259.64 777.75) skewY(0.03)" font-size="10.70" textLength="96.90" lengthAdjust="spacingAndGlyphs">Jelinek et al. (2006)</text>
<text transform="translate(1240.79 776.75) skewY(0.03)" x="0.00" font-size="9.90" font-weight="700">*</text>
<text transform="translate(1260.31 794.75) skewY(0.03)" font-size="10.70" textLength="87.33" lengthAdjust="spacingAndGlyphs">Stein et al. (2002)</text>
<text transform="translate(1228.71 794.75) skewY(0.03)" font-size="10.30" textLength="17.29" lengthAdjust="spacingAndGlyphs">n.s.</text>
<text transform="translate(1259.88 811.75) skewY(0.03)" font-size="10.70" textLength="125.15" lengthAdjust="spacingAndGlyphs">Elsesser &amp; Sartory (2007)</text>
<text transform="translate(1228.71 812.00) skewY(0.03)" font-size="10.30" textLength="17.29" lengthAdjust="spacingAndGlyphs">n.s.</text>
<text transform="translate(1259.87 829.00) skewY(0.03)" font-size="10.70" textLength="109.07" lengthAdjust="spacingAndGlyphs">Pederson et al. (2004)</text>
<text transform="translate(1228.71 829.25) skewY(0.03)" font-size="10.30" textLength="17.29" lengthAdjust="spacingAndGlyphs">n.s.</text>
<text transform="translate(1260.75 846.25) skewY(0.03)" font-size="10.70" textLength="110.99" lengthAdjust="spacingAndGlyphs">Vasterling et al. (2000)</text>
<text transform="translate(1228.71 846.50) skewY(0.03)" font-size="10.30" textLength="17.29" lengthAdjust="spacingAndGlyphs">n.s.</text>
<text transform="translate(1259.64 863.50) skewY(0.03)" font-size="10.70" textLength="96.90" lengthAdjust="spacingAndGlyphs">Jelinek et al. (2013)</text>
<text transform="translate(1228.71 863.75) skewY(0.03)" font-size="10.30" textLength="17.29" lengthAdjust="spacingAndGlyphs">n.s.</text>
<text transform="translate(1228.59 897.50) skewY(0.03)" x="0.00 6.10 12.20" font-size="9.90" font-weight="700">***</text>
<line x1="1442.2" y1="517.00" x2="1497.4" y2="517.00" stroke="#484848" stroke-width="1.30"/>
<line x1="1512.2" y1="534.30" x2="1577.1" y2="534.30" stroke="#484848" stroke-width="1.30"/>
<line x1="1515.9" y1="551.50" x2="1569.6" y2="551.50" stroke="#484848" stroke-width="1.30"/>
<line x1="1521.0" y1="568.80" x2="1572.3" y2="568.80" stroke="#484848" stroke-width="1.30"/>
<line x1="1533.2" y1="586.00" x2="1586.8" y2="586.00" stroke="#484848" stroke-width="1.30"/>
<line x1="1532.8" y1="603.10" x2="1595.9" y2="603.10" stroke="#484848" stroke-width="1.30"/>
<line x1="1537.7" y1="619.10" x2="1595.9" y2="619.10" stroke="#484848" stroke-width="1.30"/>
<line x1="1550.4" y1="636.30" x2="1603.0" y2="636.30" stroke="#484848" stroke-width="1.30"/>
<line x1="1551.3" y1="653.40" x2="1584.5" y2="653.40" stroke="#484848" stroke-width="1.30"/>
<line x1="1558.8" y1="670.60" x2="1589.4" y2="670.60" stroke="#484848" stroke-width="1.30"/>
<line x1="1560.5" y1="687.70" x2="1598.0" y2="687.70" stroke="#484848" stroke-width="1.30"/>
<line x1="1560.9" y1="705.00" x2="1619.4" y2="705.00" stroke="#484848" stroke-width="1.30"/>
<line x1="1575.8" y1="722.10" x2="1621.5" y2="722.10" stroke="#484848" stroke-width="1.30"/>
<line x1="1584.6" y1="739.30" x2="1633.5" y2="739.30" stroke="#484848" stroke-width="1.30"/>
<line x1="1585.7" y1="756.40" x2="1633.5" y2="756.40" stroke="#484848" stroke-width="1.30"/>
<line x1="1586.0" y1="773.40" x2="1621.5" y2="773.40" stroke="#484848" stroke-width="1.30"/>
<line x1="1594.4" y1="790.70" x2="1644.5" y2="790.70" stroke="#484848" stroke-width="1.30"/>
<line x1="1599.2" y1="807.90" x2="1644.5" y2="807.90" stroke="#484848" stroke-width="1.30"/>
<line x1="1621.4" y1="825.20" x2="1674.1" y2="825.20" stroke="#484848" stroke-width="1.30"/>
<line x1="1665.6" y1="842.40" x2="1715.0" y2="842.40" stroke="#484848" stroke-width="1.30"/>
<line x1="1667.8" y1="859.70" x2="1732.0" y2="859.70" stroke="#484848" stroke-width="1.30"/>
<line x1="1622.40" y1="514.3" x2="1622.40" y2="909.9" stroke="#222" stroke-width="1.50"/>
<rect x="1437.9" y="511.8" width="8.6" height="8.6" fill="#000"/>
<rect x="1508.4" y="529.9" width="7.5" height="7.5" fill="#000"/>
<rect x="1512.1" y="546.7" width="7.6" height="7.6" fill="#000"/>
<rect x="1517.2" y="564.0" width="7.6" height="7.7" fill="#000"/>
<rect x="1529.4" y="581.2" width="7.6" height="7.6" fill="#000"/>
<rect x="1529.6" y="598.7" width="6.5" height="6.3" fill="#000"/>
<rect x="1534.4" y="614.5" width="6.6" height="6.5" fill="#000"/>
<rect x="1546.6" y="632.5" width="7.6" height="7.6" fill="#000"/>
<rect x="1545.6" y="646.9" width="11.4" height="10.9" fill="#000"/>
<rect x="1553.2" y="663.9" width="11.1" height="11.1" fill="#000"/>
<rect x="1555.5" y="682.4" width="10.1" height="9.9" fill="#000"/>
<rect x="1557.8" y="700.4" width="6.3" height="6.3" fill="#000"/>
<rect x="1571.3" y="716.4" width="9.0" height="8.8" fill="#000"/>
<rect x="1580.7" y="735.8" width="7.8" height="7.7" fill="#000"/>
<rect x="1581.8" y="751.7" width="7.8" height="7.8" fill="#000"/>
<rect x="1580.9" y="767.9" width="10.1" height="9.9" fill="#000"/>
<rect x="1590.6" y="786.0" width="7.6" height="7.8" fill="#000"/>
<rect x="1594.6" y="802.7" width="9.1" height="8.8" fill="#000"/>
<rect x="1617.5" y="820.8" width="7.8" height="7.7" fill="#000"/>
<rect x="1661.7" y="837.8" width="7.8" height="7.8" fill="#000"/>
<rect x="1664.5" y="855.3" width="6.5" height="6.5" fill="#000"/>
<polygon points="1549.5,893.3 1566.1,886.1 1582.7,893.3 1566.1,900.5" fill="#000"/>
<line x1="1435.5" y1="909.90" x2="1761.3" y2="909.90" stroke="#111" stroke-width="1.40"/>
<line x1="1436.00" y1="909.90" x2="1436.00" y2="912.50" stroke="#111" stroke-width="1.00"/>
<line x1="1482.40" y1="909.90" x2="1482.40" y2="912.50" stroke="#111" stroke-width="1.00"/>
<line x1="1528.80" y1="909.90" x2="1528.80" y2="912.50" stroke="#111" stroke-width="1.00"/>
<line x1="1575.20" y1="909.90" x2="1575.20" y2="912.50" stroke="#111" stroke-width="1.00"/>
<line x1="1621.60" y1="909.90" x2="1621.60" y2="912.50" stroke="#111" stroke-width="1.00"/>
<line x1="1668.00" y1="909.90" x2="1668.00" y2="912.50" stroke="#111" stroke-width="1.00"/>
<line x1="1714.40" y1="909.90" x2="1714.40" y2="912.50" stroke="#111" stroke-width="1.00"/>
<line x1="1760.80" y1="909.90" x2="1760.80" y2="912.50" stroke="#111" stroke-width="1.00"/>
<text transform="translate(1436.00 926.50) skewY(0.03)" font-size="12.30" class="ax" text-anchor="middle">-2</text>
<text transform="translate(1528.80 926.50) skewY(0.03)" font-size="12.30" class="ax" text-anchor="middle">-1</text>
<text transform="translate(1622.40 926.50) skewY(0.03)" font-size="12.30" class="ax" text-anchor="middle">0</text>
<text transform="translate(1714.40 926.50) skewY(0.03)" font-size="12.30" class="ax" text-anchor="middle">1</text>
</g>
</g>
</svg>
</body>
</html>
